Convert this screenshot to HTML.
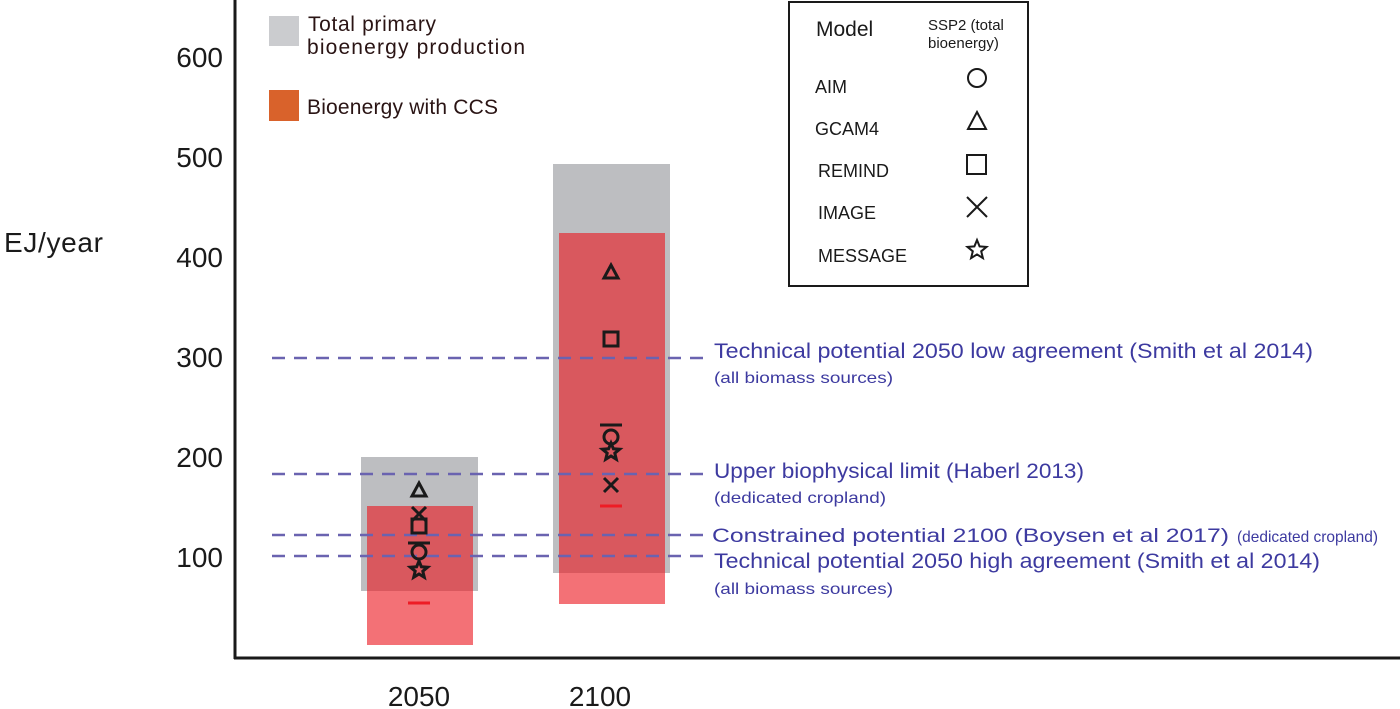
<!DOCTYPE html>
<html><head><meta charset="utf-8"><style>
html,body{margin:0;padding:0;background:#fff;}
svg{display:block;font-family:"Liberation Sans",sans-serif;}
</style></head><body>
<svg id="chart" width="1400" height="709" viewBox="0 0 1400 709">
<g id="bars"></g><g id="refs"></g><g id="marks"></g>
<line x1="235" y1="0" x2="235" y2="659" stroke="#1a1a1a" stroke-width="3"/>
<line x1="234" y1="658" x2="1400" y2="658" stroke="#1a1a1a" stroke-width="3"/>
<g id="yticks" font-size="28" fill="#1a1a1a" text-anchor="end"></g>
<text x="4" y="252" font-size="28" fill="#1a1a1a" textLength="99">EJ/year</text>
<text x="419" y="706" font-size="28" fill="#1a1a1a" text-anchor="middle">2050</text>
<text x="600" y="706" font-size="28" fill="#1a1a1a" text-anchor="middle">2100</text>
<g>
<rect x="269" y="16" width="30" height="30" fill="#cbcccf"/>
<text font-size="21" fill="#2a1414"><tspan x="308" y="31" textLength="128">Total primary</tspan><tspan x="307" y="54" textLength="218">bioenergy production</tspan></text>
<rect x="269" y="90" width="30" height="31" fill="#d9622b"/>
<text x="307" y="114" font-size="21" fill="#2a1414" textLength="191">Bioenergy with CCS</text>
</g>
<g>
<rect x="789" y="2" width="239" height="284" fill="#fff" stroke="#1a1a1a" stroke-width="2"/>
<text x="816" y="36" font-size="21" fill="#1a1a1a">Model</text>
<text x="928" y="30" font-size="15" fill="#1a1a1a"><tspan x="928">SSP2 (total</tspan><tspan x="928" dy="18">bioenergy)</tspan></text>
<g font-size="18" fill="#1a1a1a">
<text x="815" y="93">AIM</text><text x="815" y="135">GCAM4</text><text x="818" y="177">REMIND</text><text x="818" y="219">IMAGE</text><text x="818" y="262">MESSAGE</text>
</g>
<g fill="none" stroke="#1a1a1a" stroke-width="2">
<circle cx="977" cy="78" r="9"/>
<path d="M977 112 L986 129 L968 129 Z"/>
<rect x="967" y="155" width="19" height="19"/>
<path d="M967 197 L987 217 M987 197 L967 217"/>
<path d="M977.0,240.0 L979.6,246.4 L986.5,246.9 L981.2,251.3 L982.9,258.1 L977.0,254.4 L971.1,258.1 L972.8,251.3 L967.5,246.9 L974.4,246.4 Z"/>
</g>
</g>
<g id="reflabels" fill="#3d3aa0"></g>
<script>
const years=["2050","2100"];
const totalLow=[66,84], totalHigh=[200,493];
const ccsLow=[12,53], ccsHigh=[151,424];
const aim=[105,220], gcam=[167,385], remind=[131,318], image=[143,172], message=[87,205];
const median=[114,232], ccsMedian=[54,151];
const refValues=[299,183,122,101];
const yTicks=[100,200,300,400,500,600];
const NS="http://www.w3.org/2000/svg";
const y=v=>657-v;
const xc=[419,611];
function mk(tag,attrs,parent){const e=document.createElementNS(NS,tag);for(const k in attrs)e.setAttribute(k,attrs[k]);parent.appendChild(e);return e;}
const bars=document.getElementById('bars'),marks=document.getElementById('marks'),refs=document.getElementById('refs');
years.forEach((yr,i)=>{
  const c=xc[i];
  let r=mk('rect',{x:c-52,y:y(ccsHigh[i]),width:106,height:ccsHigh[i]-ccsLow[i],fill:'#f37176'},bars);
  
  
  r=mk('rect',{x:c-58,y:y(totalHigh[i]),width:117,height:totalHigh[i]-totalLow[i],fill:'#bdbec1'},bars);
  
  
  const ot=Math.min(ccsHigh[i],totalHigh[i]),ob=Math.max(ccsLow[i],totalLow[i]);
  r=mk('rect',{x:c-52,y:y(ot),width:106,height:ot-ob,fill:'#d9585e'},bars);
  
  
  const g=mk('g',{fill:'none',stroke:'#1a1a1a','stroke-width':3},marks);
  
  
  const mx=c;
  let e=mk('circle',{cx:mx,cy:y(aim[i]),r:7},g);
  
  let ty=y(gcam[i]);
  e=mk('path',{d:`M${mx} ${ty-7} L${mx+7} ${ty+6} L${mx-7} ${ty+6} Z`},g);
  
  e=mk('rect',{x:mx-7,y:y(remind[i])-7,width:14,height:14},g);
  
  ty=y(image[i]);
  e=mk('path',{d:`M${mx-7} ${ty-7} L${mx+7} ${ty+7} M${mx+7} ${ty-7} L${mx-7} ${ty+7}`},g);
  
  ty=y(message[i]);let p='';
  for(let k=0;k<10;k++){const a=-Math.PI/2+k*Math.PI/5,rr=k%2?4:9;p+=(k?'L':'M')+(mx+rr*Math.cos(a)).toFixed(1)+' '+(ty+rr*Math.sin(a)).toFixed(1);}
  e=mk('path',{d:p+'Z'},g);
  
  e=mk('line',{x1:mx-11,x2:mx+11,y1:y(median[i]),y2:y(median[i])},g);
  
  e=mk('line',{x1:mx-11,x2:mx+11,y1:y(ccsMedian[i]),y2:y(ccsMedian[i]),stroke:'#ee1c25','stroke-width':3},marks);
  
});
refValues.forEach((v,i)=>{
  const l=mk('line',{x1:272,x2:706,y1:y(v),y2:y(v),stroke:'#6a63b0','stroke-width':2.5,'stroke-dasharray':'13,9'},refs);
  
  
});
const yt=document.getElementById('yticks');
yTicks.forEach(v=>{const t=mk('text',{x:223,y:y(v)+10},yt);t.textContent=v;
  
  });
const labels=[
 [714,358,21,599,"Technical potential 2050 low agreement (Smith et al 2014)"],[714,383,16,179,"(all biomass sources)"],
 [714,478,21,370,"Upper biophysical limit (Haberl 2013)"],[714,503,16,172,"(dedicated cropland)"],
 [712,542,19,517,"Constrained potential 2100 (Boysen et al 2017)"],[1237,542,16,141,"(dedicated cropland)"],
 [714,568,21,606,"Technical potential 2050 high agreement (Smith et al 2014)"],[714,594,16,179,"(all biomass sources)"]];
const rl=document.getElementById('reflabels');
labels.forEach((d,i)=>{const t=mk('text',{x:d[0],y:d[1],'font-size':d[2],textLength:d[3],lengthAdjust:'spacingAndGlyphs'},rl);t.textContent=d[4];
  
  });
</script>
</svg>
</body></html>
